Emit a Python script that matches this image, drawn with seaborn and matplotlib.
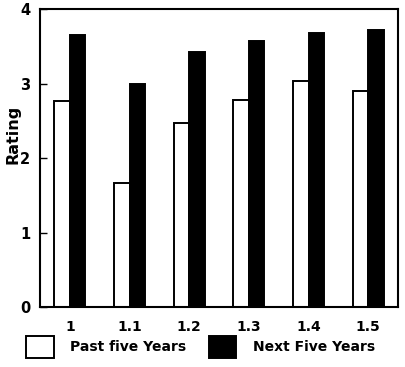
import matplotlib
matplotlib.use("Agg")
import matplotlib.pyplot as plt
import seaborn as sns
import pandas as pd

categories = ["1", "1.1", "1.2", "1.3", "1.4", "1.5"]
past_five = [2.77, 1.67, 2.47, 2.78, 3.04, 2.90]
next_five = [3.65, 2.99, 3.42, 3.57, 3.68, 3.72]
series_names = ["Past five Years", "Next Five Years"]
y_ticks = [0, 1, 2, 3, 4]

df = pd.DataFrame({
    "cat": categories * 2,
    "val": past_five + next_five,
    "series": [series_names[0]] * len(categories) + [series_names[1]] * len(categories),
})

sns.set_style("white")
plt.rcParams['font.family'] = ['DejaVu Sans']
plt.rcParams['text.color'] = 'black'
plt.rcParams['axes.labelcolor'] = 'black'
plt.rcParams['xtick.color'] = 'black'
plt.rcParams['ytick.color'] = 'black'

fig = plt.figure(figsize=(4.05, 3.67), dpi=100)
ax = fig.add_axes([0.099, 0.163, 0.884, 0.812])

sns.barplot(data=df, x="cat", y="val", hue="series", order=categories,
            hue_order=series_names, palette=["white", "black"],
            width=0.52, gap=0, edgecolor="black", linewidth=1.4,
            saturation=1, ax=ax)

ax.set_xlim(-0.5, 5.5)
ax.set_ylim(0, 4)
ax.set_yticks(y_ticks)
ax.set_yticklabels([str(t) for t in y_ticks], fontsize=10.5, fontweight="bold")
ax.set_xticks(range(len(categories)))
ax.set_xticklabels(categories, fontsize=10, fontweight="bold")
ax.tick_params(axis="y", direction="in", length=5, width=1, pad=7, left=True)
ax.tick_params(axis="x", length=0, pad=9)
ax.set_xlabel("")
ax.set_ylabel("Rating", fontsize=11.5, fontweight="bold")
ax.yaxis.set_label_coords(-0.055, 0.58)
for s in ax.spines.values():
    s.set_color("black")
    s.set_linewidth(1.5)

sns.move_legend(ax, "upper left", bbox_to_anchor=(-0.075, -0.055), ncol=2,
                frameon=False, title=None, handlelength=2.0, handleheight=2.0,
                columnspacing=1.6, handletextpad=1.2,
                prop={"size": 10, "weight": "bold"})

fig.savefig("out.png", dpi=100)
